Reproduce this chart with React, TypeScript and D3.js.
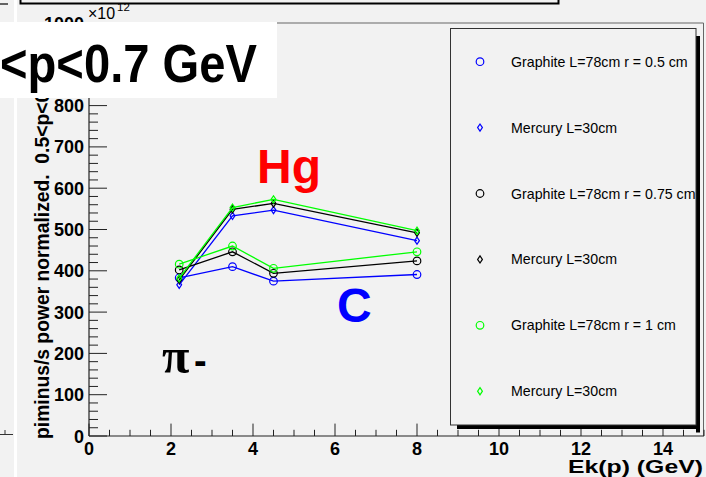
import React from 'react';
import * as d3 from 'd3';

const energies = [2.2, 3.5, 4.5, 8];
const graphiteR05 = [383, 410, 375, 391];
const mercuryBlue = [366, 533, 547, 473];
const graphiteR075 = [402, 446, 394, 424];
const mercuryBlack = [378, 549, 563, 492];
const graphiteR1 = [416, 460, 406, 446];
const mercuryGreen = [382, 553, 573, 497];

const legendLabels = [
  'Graphite L=78cm r = 0.5 cm',
  'Mercury L=30cm',
  'Graphite L=78cm r = 0.75 cm',
  'Mercury L=30cm',
  'Graphite L=78cm r = 1 cm',
  'Mercury L=30cm',
];
const xTickLabels = [0, 2, 4, 6, 8, 10, 12, 14];
const yTickLabels = [0, 100, 200, 300, 400, 500, 600, 700, 800, 900, 1000];

const W = 706;
const H = 477;
const BG = '#f2f2f2';
const SANS = '"Liberation Sans", Arial, Helvetica, sans-serif';

type Series = { values: number[]; color: string; marker: 'circle' | 'diamond' };
const series: Series[] = [
  { values: graphiteR05, color: '#0000ff', marker: 'circle' },
  { values: mercuryBlue, color: '#0000ff', marker: 'diamond' },
  { values: graphiteR075, color: '#000000', marker: 'circle' },
  { values: mercuryBlack, color: '#000000', marker: 'diamond' },
  { values: graphiteR1, color: '#00ff00', marker: 'circle' },
  { values: mercuryGreen, color: '#00ff00', marker: 'diamond' },
];

function Marker({ kind, cx, cy, color }: { kind: string; cx: number; cy: number; color: string }) {
  if (kind === 'circle') {
    return <circle cx={cx} cy={cy} r={3.8} fill="none" stroke={color} strokeWidth={1.2} />;
  }
  return (
    <path
      d={`M${cx},${cy - 3.6} L${cx + 2.4},${cy} L${cx},${cy + 3.6} L${cx - 2.4},${cy} Z`}
      fill="none"
      stroke={color}
      strokeWidth={1.2}
    />
  );
}

export default function App() {
  const x = d3.scaleLinear().domain([0, 15]).range([89, 704]);
  const y = d3.scaleLinear().domain([0, 1000]).range([436, 23]);
  const line = d3
    .line<number>()
    .x((_, i) => x(energies[i]))
    .y((d) => y(d));

  const xMinor = d3.range(0, 15.001, 0.5);
  const yMinor = d3.range(0, 1000.001, 20);

  const legendX = 450.5;
  const legendY = 28.5;
  const legendW = 245.5;
  const legendH = 396.5;
  const entryY = (i: number) => 61.7 + i * 65.9;

  return (
    <svg
      width={W}
      height={H}
      viewBox={`0 0 ${W} ${H}`}
      style={{ position: 'fixed', left: 0, top: 0, display: 'block' }}
    >
      <rect x={0} y={0} width={W} height={H} fill={BG} />
      {/* neighbouring pad fragments */}
      <rect x={14} y={0} width={3} height={H} fill="#ffffff" />
      <line x1={0} y1={434.5} x2={13} y2={434.5} stroke="#333" strokeWidth={1} />
      <line x1={5} y1={430} x2={5} y2={434.5} stroke="#333" strokeWidth={1} />
      <line x1={0} y1={4} x2={8} y2={4} stroke="#333" strokeWidth={1.5} />
      <path d="M20.5,0 V3.5 H558.5 V0" fill="none" stroke="#000" strokeWidth={2} />

      {/* frame */}
      <line x1={x(0)} y1={23} x2={703.5} y2={23} stroke="#666" strokeWidth={1} />
      <line x1={703.5} y1={23} x2={703.5} y2={436} stroke="#666" strokeWidth={1} />

      {/* axes */}
      <line x1={x(0)} y1={y(0)} x2={x(15)} y2={y(0)} stroke="#222" strokeWidth={1.2} />
      <line x1={x(0)} y1={y(0)} x2={x(0)} y2={y(1000)} stroke="#222" strokeWidth={1.2} />
      {xMinor.map((v) => {
        const major = Math.abs(v % 2) < 1e-9;
        return (
          <line
            key={'xt' + v}
            x1={x(v)}
            x2={x(v)}
            y1={y(0)}
            y2={y(0) - (major ? 12.4 : 6.2)}
            stroke="#222"
            strokeWidth={1}
          />
        );
      })}
      {yMinor.map((v) => {
        const major = Math.abs(v % 100) < 1e-9;
        return (
          <line
            key={'yt' + v}
            x1={x(0)}
            x2={x(0) + (major ? 18 : 9)}
            y1={y(v)}
            y2={y(v)}
            stroke="#222"
            strokeWidth={1}
          />
        );
      })}
      {xTickLabels.map((v) => (
        <text
          key={'xl' + v}
          x={x(v)}
          y={455}
          textAnchor="middle"
          fontFamily={SANS}
          fontWeight="bold"
          fontSize={18}
          fill="#000"
        >
          {v}
        </text>
      ))}
      {yTickLabels.map((v) => (
        <text
          key={'yl' + v}
          x={84}
          y={y(v) + 6.5}
          textAnchor="end"
          fontFamily={SANS}
          fontWeight="bold"
          fontSize={18}
          fill="#000"
        >
          {v}
        </text>
      ))}
      <text x={88} y={19} fontFamily={SANS} fontSize={16} fill="#000">
        ×10
      </text>
      <text x={117} y={11} fontFamily={SANS} fontSize={11.5} fill="#000">
        12
      </text>

      {/* axis titles */}
      <text
        transform="translate(48.5,439) rotate(-90)"
        fontFamily={SANS}
        fontWeight="bold"
        fontSize={19.3}
        fill="#000"
        style={{ whiteSpace: 'pre' }}
      >
        {'piminus/s power normalized.  0.5<p<0.7 GeV'}
      </text>
      <text
        x={568}
        y={473}
        fontFamily={SANS}
        fontWeight="bold"
        fontSize={18}
        textLength={135}
        lengthAdjust="spacingAndGlyphs"
        fill="#000"
      >
        Ek(p) (GeV)
      </text>

      {/* data */}
      {series.map((s, si) => (
        <g key={'s' + si}>
          <path d={line(s.values) || ''} fill="none" stroke={s.color} strokeWidth={1.3} />
          {s.values.map((v, i) => (
            <Marker key={i} kind={s.marker} cx={x(energies[i])} cy={y(v)} color={s.color} />
          ))}
        </g>
      ))}

      {/* annotations */}
      <text x={257} y={183} fontFamily={SANS} fontWeight="bold" fontSize={48} fill="#ff0000">
        Hg
      </text>
      <text x={337} y={322} fontFamily={SANS} fontWeight="bold" fontSize={48} fill="#0000ff">
        C
      </text>
      <text x={162} y={373} fontFamily='"Liberation Serif", "Times New Roman", serif' fontWeight="bold" fontSize={50} fill="#000">
        π
      </text>
      <text x={194} y={374} fontFamily={SANS} fontWeight="bold" fontSize={38} fill="#000">
        -
      </text>

      {/* legend */}
      <rect x={legendX + 6.5} y={legendY + legendH} width={legendW - 2.5} height={4} fill="#000" />
      <rect x={legendX + legendW} y={legendY + 7.5} width={4} height={legendH} fill="#000" />
      <rect
        x={legendX}
        y={legendY}
        width={legendW}
        height={legendH}
        fill={BG}
        stroke="#333"
        strokeWidth={1}
      />
      {legendLabels.map((label, i) => (
        <g key={'lg' + i}>
          <Marker kind={series[i].marker} cx={480} cy={entryY(i)} color={series[i].color} />
          <text
            x={511}
            y={entryY(i) + 5}
            fontFamily={SANS}
            fontSize={14.2}
            fill="#000"
          >
            {label}
          </text>
        </g>
      ))}

      {/* title box */}
      <rect x={0} y={22} width={277} height={76} fill="#ffffff" />
      <text
        x={0}
        y={82}
        fontFamily={SANS}
        fontWeight="bold"
        fontSize={53}
        textLength={257}
        lengthAdjust="spacingAndGlyphs"
        fill="#000"
      >
        {'<p<0.7 GeV'}
      </text>
    </svg>
  );
}
